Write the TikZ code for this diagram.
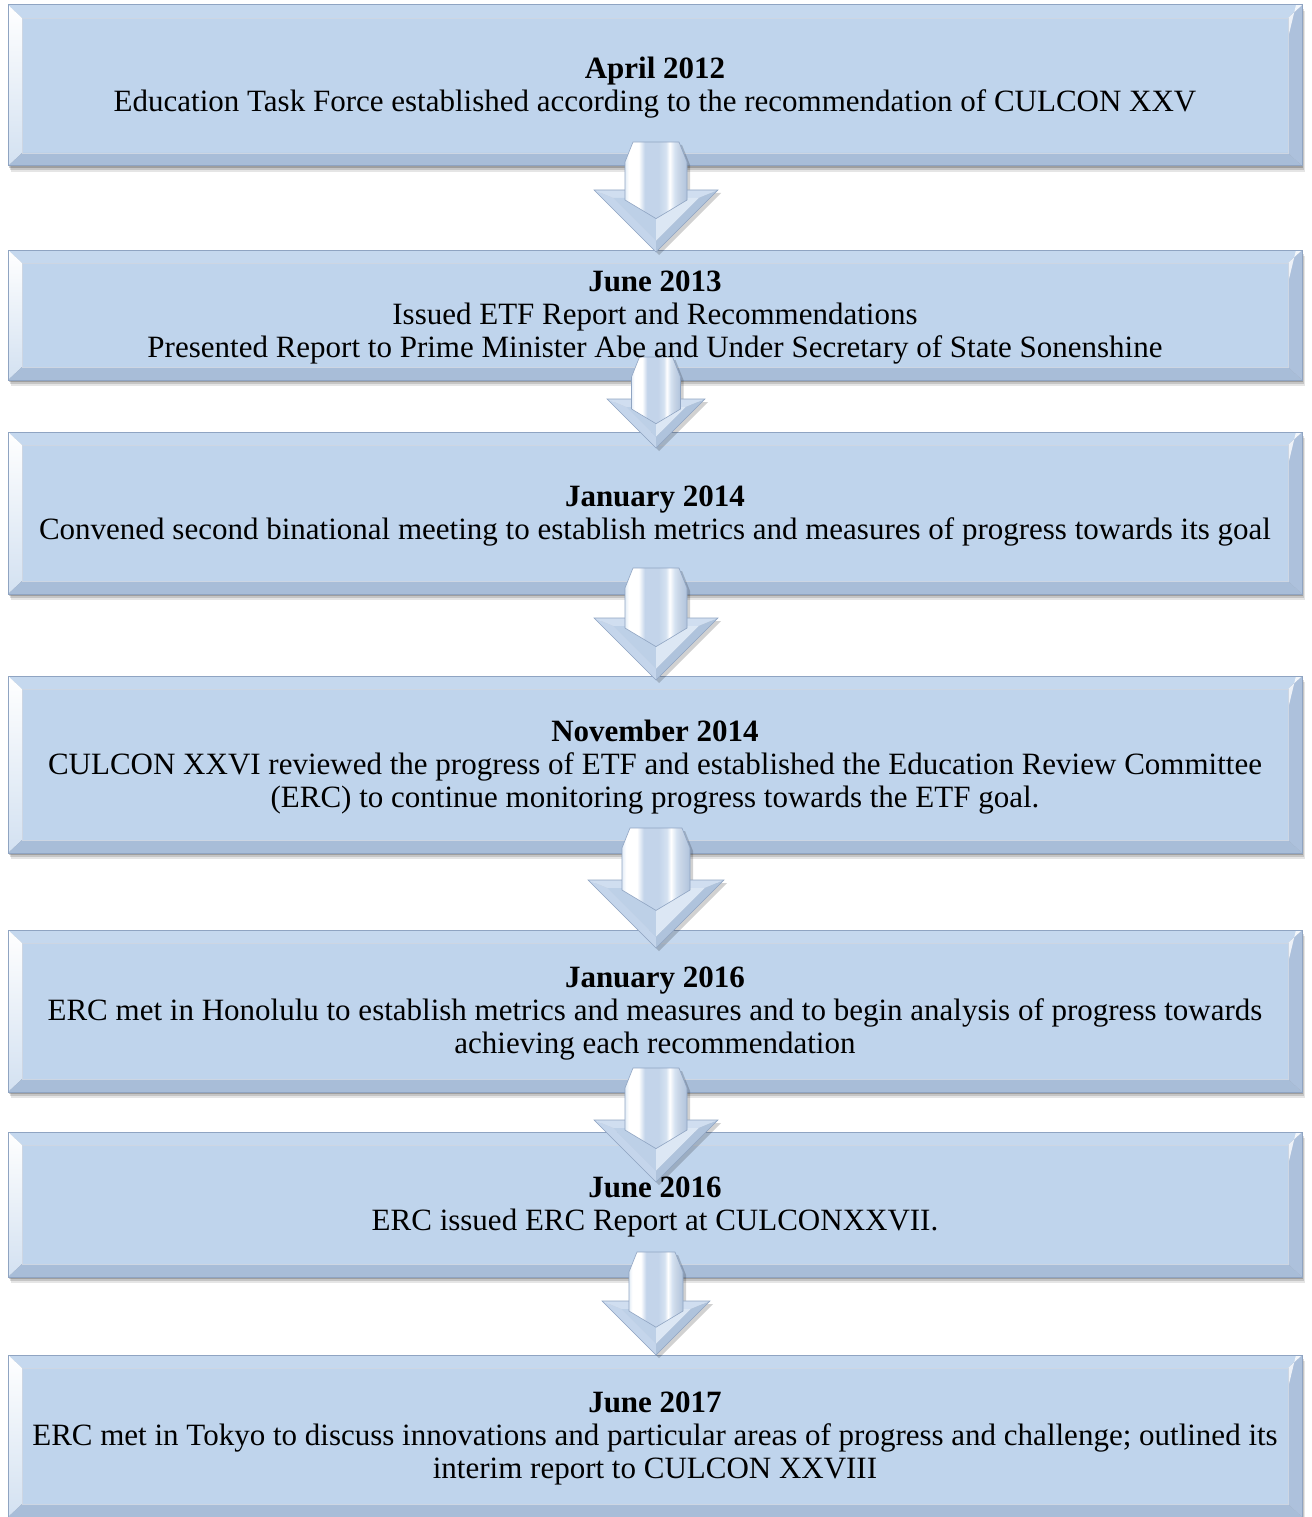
\documentclass[tikz,border=0pt]{standalone}
\usepackage{fontspec}
\setmainfont{Liberation Serif}
\usetikzlibrary{positioning,calc,backgrounds}

\definecolor{facecol}{HTML}{BFD4EC}
\definecolor{topcol}{HTML}{C5D8EE}
\definecolor{leftcol}{HTML}{D3E1F1}
\definecolor{rightcol}{HTML}{ADC1DC}
\definecolor{bottomcol}{HTML}{A8BDD8}
\definecolor{edgecol}{HTML}{8FA4C2}
\definecolor{shaftA}{HTML}{E4EDF7}
\definecolor{shaftB}{HTML}{C3D4EA}
\definecolor{shaftC}{HTML}{D5E2F1}
\definecolor{shaftD}{HTML}{C9D6E7}
\definecolor{shaftE}{HTML}{B0C3DC}
\definecolor{headtop}{HTML}{D0DEF0}
\definecolor{headleft}{HTML}{C4D5EB}
\definecolor{headright}{HTML}{AFC3DC}
\definecolor{headin}{HTML}{BDD0E7}
\definecolor{headlight}{HTML}{DCE7F4}

\pgfdeclarehorizontalshading{shaftshade}{100bp}{color(0bp)=(shaftA); color(25bp)=(shaftA); color(28bp)=(white); color(36bp)=(white); color(41bp)=(shaftB); color(52bp)=(shaftB); color(58bp)=(shaftC); color(61bp)=(white); color(65bp)=(shaftC); color(68bp)=(shaftD); color(75bp)=(shaftE); color(100bp)=(shaftE)}

\newcommand{\topstrut}{\rule{0pt}{26pt}}
\newcommand{\botstrut}{\rule[-7pt]{0pt}{7pt}}

% beveled frame behind a stage node
\newcommand{\bevelframe}[1]{%
  \foreach \sh/\op in {6/0.10,4/0.14,2/0.20}{
    \fill[black, opacity=\op] ($(#1.north west)+(0.5*\sh,\sh)$) rectangle ($(#1.south east)+(0.5*\sh,\sh)$);
  }
  \coordinate (#1-nw) at ($(#1.north west)+(14,13)$);
  \coordinate (#1-ne) at ($(#1.north east)+(-14,13)$);
  \coordinate (#1-se) at ($(#1.south east)+(-14,-13)$);
  \coordinate (#1-sw) at ($(#1.south west)+(14,-13)$);
  \fill[facecol] (#1-nw) rectangle (#1-se);
  \fill[topcol] (#1.north west) -- (#1.north east) -- (#1-ne) -- (#1-nw) -- cycle;
  \shade[top color=white, bottom color=leftcol] (#1.north west) -- (#1-nw) -- (#1-sw) -- (#1.south west) -- cycle;
  \fill[rightcol] (#1.north east) -- (#1.south east) -- (#1-se) -- (#1-ne) -- cycle;
  \fill[white, opacity=.8] (#1.north east) -- ($(#1.north east)+(-6,0)$) -- ($(#1-ne)+(0,20)$) -- (#1-ne) -- cycle;
  \fill[bottomcol] (#1.south west) -- (#1.south east) -- (#1-se) -- (#1-sw) -- cycle;
  \draw[edgecol!45, line width=.4pt] (#1-nw) rectangle (#1-se);
  \draw[edgecol, line width=1pt] (#1.north west) rectangle (#1.south east);
}

% beveled block arrow from one stage to the next
\newcommand{\bevelarrow}[5]{%
  \pgfmathsetmacro\hs{#5/2}
  \coordinate (t) at ($(#1.south)+(1,-#3)$);
  \coordinate (p) at ($(#2.north)+(1,#4)$);
  \fill[black, opacity=.18] ($(t)+(-\hs+11,3)$) -- ($(t)+(\hs-5,3)$) -- ($(t)+(\hs+3,23)$)
    -- ($(p)+(\hs+3,-#5+3)$) -- ($(p)+(#5+3,-#5+3)$) -- ($(p)+(3,3)$) -- ($(p)+(-#5+3,-#5+3)$)
    -- ($(p)+(-\hs+3,-#5+3)$) -- ($(t)+(-\hs+3,23)$) -- cycle;
  \fill[headtop] ($(p)+(-#5,-#5)$) -- ($(p)+(#5,-#5)$) -- ($(p)+(#5-19.3,-#5+8)$) -- ($(p)+(-#5+19.3,-#5+8)$) -- cycle;
  \fill[headleft] ($(p)+(-#5,-#5)$) -- ($(p)+(-#5+19.3,-#5+8)$) -- ($(p)+(0,-11.3)$) -- (p) -- cycle;
  \fill[headright] ($(p)+(#5,-#5)$) -- (p) -- ($(p)+(0,-11.3)$) -- ($(p)+(#5-19.3,-#5+8)$) -- cycle;
  \fill[headin] ($(p)+(-#5+19.3,-#5+8)$) -- ($(p)+(0,-#5+8)$) -- ($(p)+(0,-11.3)$) -- cycle;
  \fill[headlight] ($(p)+(0,-#5+8)$) -- ($(p)+(#5-19.3,-#5+8)$) -- ($(p)+(0,-11.3)$) -- cycle;
  \draw[edgecol, line width=.6pt] ($(p)+(-#5,-#5)$) -- ($(p)+(#5,-#5)$) -- (p) -- cycle;
  \shadedraw[shading=shaftshade, draw=edgecol, line width=.6pt] ($(t)+(-\hs+8,0)$) -- ($(t)+(\hs-8,0)$) -- ($(t)+(\hs,20)$)
    -- ($(p)+(\hs,-#5+10)$) -- ($(p)+(0,-#5+10+0.6*\hs)$) -- ($(p)+(-\hs,-#5+10)$) -- ($(t)+(-\hs,20)$) -- cycle;
}

\begin{document}
\begin{tikzpicture}[
    x=1pt, y=-1pt,
    stage/.style={rectangle, inner sep=0pt, outer sep=0pt, minimum width=1294pt, align=center,
      font=\fontsize{31}{33}\selectfont}
  ]
  \useasboundingbox (0,0) rectangle (1311,1517);

  % Stages
  \node[stage, minimum height=161pt] (b1) at (655,85.5)
    {\topstrut\textbf{April 2012}\\Education Task Force established according to the recommendation of CULCON XXV\botstrut};
  \node[stage, minimum height=130pt, below=84pt of b1] (b2)
    {\topstrut\textbf{June 2013}\\Issued ETF Report and Recommendations\\Presented Report to Prime Minister Abe and Under Secretary of State Sonenshine\botstrut};
  \node[stage, minimum height=162pt, below=52pt of b2] (b3)
    {\topstrut\textbf{January 2014}\\Convened second binational meeting to establish metrics and measures of progress towards its goal\botstrut};
  \node[stage, minimum height=177pt, below=82pt of b3] (b4)
    {\topstrut\textbf{November 2014}\\CULCON XXVI reviewed the progress of ETF and established the Education Review Committee\\(ERC) to continue monitoring progress towards the ETF goal.\botstrut};
  \node[stage, minimum height=162pt, below=77pt of b4] (b5)
    {\topstrut\textbf{January 2016}\\ERC met in Honolulu to establish metrics and measures and to begin analysis of progress towards\\achieving each recommendation\botstrut};
  \node[stage, minimum height=145pt, below=40pt of b5] (b6)
    {\topstrut\textbf{June 2016}\\ERC issued ERC Report at CULCONXXVII.\botstrut};
  \node[stage, minimum height=162pt, below=78pt of b6] (b7)
    {\topstrut\textbf{June 2017}\\ERC met in Tokyo to discuss innovations and particular areas of progress and challenge; outlined its\\interim report to CULCON XXVIII\botstrut};

  \begin{scope}[on background layer]
    % Frames
    \foreach \b in {b1,b2,b3,b4,b5,b6,b7}{\bevelframe{\b}}
    % Arrows
    \bevelarrow{b1}{b2}{24}{2}{62}
    \bevelarrow{b2}{b3}{23}{16}{49}
    \bevelarrow{b3}{b4}{26}{4}{62}
    \bevelarrow{b4}{b5}{25}{18}{68}
    \bevelarrow{b5}{b6}{24}{50}{62}
    \bevelarrow{b6}{b7}{25}{0}{54}
  \end{scope}
\end{tikzpicture}
\end{document}
